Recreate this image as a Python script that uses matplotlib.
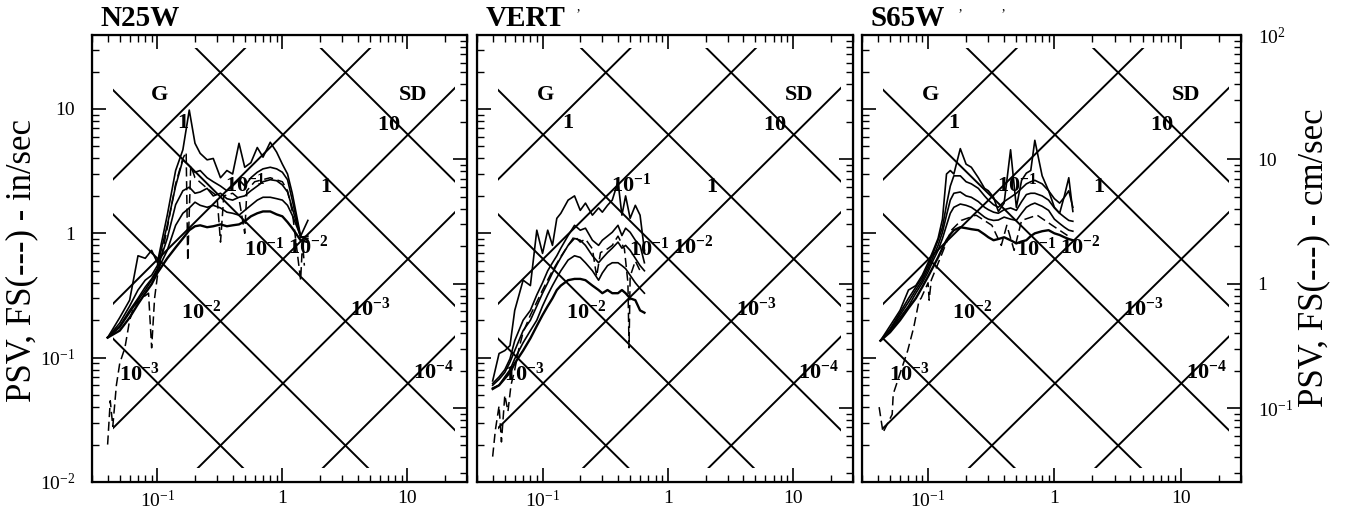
import numpy as np
import matplotlib

matplotlib.use('Agg')
import matplotlib.pyplot as plt
from matplotlib.patches import Rectangle
from matplotlib.ticker import FixedLocator, FixedFormatter, NullFormatter

plt.rcParams['font.family'] = ['Liberation Serif', 'DejaVu Serif']
plt.rcParams['mathtext.fontset'] = 'custom'
plt.rcParams['mathtext.rm'] = 'Liberation Serif'
plt.rcParams['mathtext.bf'] = 'Liberation Serif:bold'
plt.rcParams['mathtext.it'] = 'Liberation Serif:italic'

# --- data: period (sec) and pseudo velocity (in/sec) ---
N25W_T = [0.04, 0.05, 0.06, 0.07, 0.08, 0.09, 0.10, 0.12, 0.14, 0.16, 0.18, 0.20, 0.22, 0.25, 0.28,
          0.32, 0.36, 0.40, 0.45, 0.50, 0.56, 0.63, 0.70, 0.80, 0.90, 1.0, 1.1, 1.2, 1.4, 1.6]
N25W_PSV = [
    [0.145, 0.21, 0.29, 0.66, 0.63, 0.73, 0.58, 1.4, 3.2, 4.7, 9.8, 5.3, 4.4, 3.9, 4.0,
     2.8, 3.2, 3.0, 5.3, 3.4, 3.7, 4.9, 4.1, 5.4, 4.5, 3.6, 3.0, 2.1, 0.95, 1.27],
    [0.145, 0.19, 0.26, 0.35, 0.42, 0.46, 0.55, 1.16, 2.4, 3.9, 3.5, 3.1, 3.2, 2.8, 2.6,
     2.4, 2.2, 2.4, 2.7, 2.4, 2.8, 3.1, 3.3, 3.4, 3.3, 3.1, 2.7, 1.85, 0.93, 0.95],
    [0.145, 0.18, 0.24, 0.30, 0.37, 0.43, 0.52, 0.91, 1.7, 2.2, 2.35, 2.1, 2.15, 2.3, 2.0,
     2.1, 1.9, 1.85, 1.95, 2.0, 2.2, 2.4, 2.6, 2.7, 2.65, 2.45, 2.15, 1.6, 0.93, 0.91],
    [0.145, 0.175, 0.23, 0.29, 0.35, 0.42, 0.50, 0.73, 1.16, 1.45, 1.6, 1.78, 1.68, 1.62, 1.68,
     1.6, 1.48, 1.45, 1.4, 1.53, 1.68, 1.85, 1.95, 1.95, 1.9, 1.85, 1.68, 1.4, 0.95, 0.88],
    [0.145, 0.165, 0.21, 0.27, 0.33, 0.39, 0.48, 0.63, 0.77, 0.91, 1.06, 1.14, 1.16, 1.12, 1.14,
     1.18, 1.14, 1.16, 1.18, 1.25, 1.37, 1.45, 1.5, 1.5, 1.42, 1.37, 1.23, 1.1, 0.88, 0.85],
]
N25W_FS_T = [0.040, 0.042, 0.044, 0.047, 0.050, 0.055, 0.060, 0.065, 0.075, 0.085, 0.090, 0.095,
             0.10, 0.12, 0.14, 0.16, 0.17, 0.175, 0.185, 0.20, 0.25, 0.30, 0.32, 0.34, 0.40, 0.45,
             0.50, 0.52, 0.60, 0.80, 1.0, 1.1, 1.2, 1.4, 1.45, 1.5]
N25W_FS = [0.020, 0.045, 0.028, 0.06, 0.09, 0.12, 0.20, 0.26, 0.30, 0.33, 0.12, 0.30,
           0.45, 1.1, 2.5, 4.0, 4.5, 0.6, 3.5, 2.8, 2.3, 2.0, 0.85, 2.0, 2.1, 1.9,
           1.0, 2.2, 2.6, 2.8, 2.6, 2.2, 1.5, 0.42, 0.85, 0.55]

VERT_T = [0.04, 0.045, 0.05, 0.055, 0.06, 0.07, 0.08, 0.09, 0.10, 0.11, 0.12, 0.13, 0.14, 0.16, 0.18,
          0.20, 0.22, 0.25, 0.28, 0.30, 0.33, 0.36, 0.40, 0.43, 0.46, 0.50, 0.55, 0.60, 0.65]
VERT_PSV = [
    [0.065, 0.108, 0.114, 0.125, 0.24, 0.42, 0.38, 1.06, 0.69, 1.06, 0.80, 1.32, 1.45, 1.85, 2.0,
     1.53, 1.75, 1.4, 1.6, 1.48, 1.68, 1.85, 2.6, 1.4, 2.0, 1.32, 1.68, 1.4, 0.73],
    [0.062, 0.07, 0.08, 0.098, 0.137, 0.2, 0.24, 0.32, 0.4, 0.5, 0.58, 0.66, 0.76, 0.96, 1.16,
     1.06, 1.1, 0.88, 0.8, 0.88, 0.95, 1.02, 1.16, 0.96, 1.1, 1.02, 0.88, 0.8, 0.58],
    [0.06, 0.067, 0.076, 0.092, 0.114, 0.165, 0.2, 0.26, 0.33, 0.4, 0.48, 0.56, 0.64, 0.8, 0.91,
     0.88, 0.8, 0.66, 0.58, 0.63, 0.7, 0.76, 0.85, 0.76, 0.8, 0.73, 0.63, 0.55, 0.5],
    [0.057, 0.06, 0.07, 0.08, 0.098, 0.132, 0.165, 0.2, 0.26, 0.32, 0.38, 0.44, 0.5, 0.61, 0.66,
     0.64, 0.58, 0.5, 0.42, 0.48, 0.55, 0.58, 0.58, 0.55, 0.52, 0.46, 0.4, 0.36, 0.33],
    [0.056, 0.06, 0.068, 0.076, 0.09, 0.114, 0.143, 0.18, 0.22, 0.26, 0.3, 0.35, 0.38, 0.42, 0.43,
     0.43, 0.42, 0.38, 0.35, 0.33, 0.35, 0.33, 0.33, 0.35, 0.33, 0.3, 0.29, 0.24, 0.23],
]
VERT_FS_T = [0.04, 0.042, 0.045, 0.047, 0.05, 0.053, 0.056, 0.06, 0.065, 0.07, 0.08, 0.09, 0.1,
             0.12, 0.14, 0.16, 0.18, 0.2, 0.22, 0.25, 0.27, 0.29, 0.33, 0.36, 0.4, 0.45, 0.48,
             0.49, 0.5, 0.55, 0.6]
VERT_FS = [0.016, 0.026, 0.041, 0.021, 0.05, 0.037, 0.06, 0.08, 0.12, 0.16, 0.22, 0.28, 0.35,
           0.5, 0.65, 0.8, 0.95, 0.85, 0.9, 0.75, 0.45, 0.7, 0.75, 0.8, 0.95, 0.75, 0.4,
           0.12, 0.45, 0.6, 0.5]

S65W_T = [0.042, 0.05, 0.06, 0.07, 0.08, 0.09, 0.10, 0.11, 0.12, 0.13, 0.14, 0.15, 0.16, 0.18, 0.20,
          0.22, 0.25, 0.28, 0.30, 0.33, 0.36, 0.40, 0.45, 0.50, 0.55, 0.60, 0.65, 0.70, 0.80, 0.90,
          1.0, 1.1, 1.2, 1.3, 1.4]
S65W_PSV = [
    [0.137, 0.18, 0.24, 0.35, 0.38, 0.46, 0.58, 0.73, 0.91, 1.3, 3.0, 3.2, 3.0, 4.8, 3.6,
     3.4, 2.8, 2.3, 2.2, 1.95, 1.5, 1.75, 4.7, 1.62, 2.67, 3.05, 3.2, 5.6, 2.9, 2.2,
     1.62, 1.45, 2.0, 2.8, 1.5],
    [0.137, 0.17, 0.23, 0.30, 0.37, 0.44, 0.55, 0.70, 0.88, 1.12, 1.7, 2.4, 2.9, 2.9, 2.6,
     2.5, 2.3, 2.0, 1.85, 1.7, 1.62, 1.8, 1.95, 2.1, 2.3, 2.5, 2.6, 2.67, 2.5, 2.2,
     1.9, 1.75, 1.95, 2.2, 1.62],
    [0.137, 0.168, 0.22, 0.28, 0.35, 0.42, 0.52, 0.65, 0.80, 1.02, 1.4, 1.85, 2.1, 2.15, 2.0,
     1.95, 1.8, 1.62, 1.55, 1.48, 1.45, 1.55, 1.6, 1.53, 1.8, 2.05, 2.1, 2.1, 2.0, 1.85,
     1.6, 1.45, 1.35, 1.27, 1.25],
    [0.137, 0.165, 0.21, 0.26, 0.33, 0.40, 0.49, 0.61, 0.73, 0.91, 1.16, 1.45, 1.62, 1.72, 1.68,
     1.62, 1.48, 1.35, 1.3, 1.27, 1.28, 1.35, 1.3, 1.27, 1.45, 1.62, 1.7, 1.75, 1.65, 1.53,
     1.3, 1.2, 1.12, 1.06, 1.04],
    [0.137, 0.16, 0.2, 0.25, 0.30, 0.37, 0.45, 0.54, 0.64, 0.76, 0.88, 0.98, 1.06, 1.12, 1.1,
     1.08, 1.06, 0.98, 0.93, 0.88, 0.9, 0.93, 0.88, 0.83, 0.86, 0.88, 0.95, 1.0, 1.04, 1.06,
     1.0, 0.97, 0.93, 0.9, 0.88],
]
S65W_FS_T = [0.041, 0.044, 0.052, 0.053, 0.069, 0.077, 0.085, 0.088, 0.10, 0.102, 0.106, 0.127,
             0.153, 0.183, 0.24, 0.32, 0.38, 0.42, 0.48, 0.55, 0.73, 0.96, 1.27]
S65W_FS = [0.04, 0.025, 0.035, 0.051, 0.114, 0.175, 0.29, 0.30, 0.40, 0.29, 0.42, 0.66,
           1.06, 1.27, 1.4, 1.16, 0.8, 1.16, 0.73, 1.27, 1.4, 1.16, 0.96]

PANELS = ['N25W', 'VERT', 'S65W']
PANEL_DATA = {
    'N25W': (N25W_T, N25W_PSV, N25W_FS_T, N25W_FS),
    'VERT': (VERT_T, VERT_PSV, VERT_FS_T, VERT_FS),
    'S65W': (S65W_T, S65W_PSV, S65W_FS_T, S65W_FS),
}

# tripartite grid levels (exponents): acceleration in g, displacement in inches
G_EXP = [0, -1, -2, -3, -4]
SD_EXP = [1, 0, -1, -2, -3]

T_LIM = (0.03, 30)
V_LIM = (0.01, 100 / 2.54)
CM_PER_IN = 2.54
G_IN = 386.09
TWO_PI = 2 * np.pi


def dec_text(k):
    if k == 0:
        return '1'
    if k == 1:
        return '10'
    return r'$10^{%d}$' % k


def dec_text_bold(k):
    if k == 0:
        return r'$\mathbf{1}$'
    if k == 1:
        return r'$\mathbf{10}$'
    return r'$\mathbf{10^{%d}}$' % k


fig = plt.figure(figsize=(13.5, 5.14), dpi=100)
lefts = [92, 477, 862]
widths = [375, 376, 379]

for i, name in enumerate(PANELS):
    ax = fig.add_axes([lefts[i] / 1350, 32 / 514, widths[i] / 1350, 447 / 514])
    ax.set_xscale('log')
    ax.set_yscale('log')
    ax.set_xlim(*T_LIM)
    ax.set_ylim(*V_LIM)

    # diagonal lines, clipped to an inset box
    clip = Rectangle((0.056, 0.031), 0.912, 0.94, transform=ax.transAxes)
    tt = np.logspace(-2, 2, 100)
    for k in G_EXP:
        ln, = ax.plot(tt, 10.0 ** k * G_IN * tt / TWO_PI, color='k', lw=1.4)
        ln.set_clip_path(clip)
    for k in SD_EXP:
        ln, = ax.plot(tt, TWO_PI * 10.0 ** k / tt, color='k', lw=1.4)
        ln.set_clip_path(clip)

    # line labels
    for k in G_EXP:
        g = 10.0 ** k
        tb = np.sqrt(TWO_PI * 0.19 / (G_IN / TWO_PI * g))
        ax.text(tb * 1.15, TWO_PI * 0.19 / tb * 0.9, dec_text_bold(k), fontsize=16,
                ha='center', va='center')
    for k in SD_EXP:
        d = 10.0 ** k
        tb = np.sqrt(TWO_PI * d / (G_IN / TWO_PI * 0.0175))
        ax.text(tb * 0.93, TWO_PI * d / tb * 0.9, dec_text_bold(k), fontsize=16,
                ha='center', va='center')
    ax.text(0.181, 0.866, 'G', transform=ax.transAxes, fontsize=16, fontweight='bold',
            ha='center', va='center')
    ax.text(0.856, 0.866, 'SD', transform=ax.transAxes, fontsize=16, fontweight='bold',
            ha='center', va='center')

    # spectra
    T, psv, fs_t, fs = PANEL_DATA[name]
    for j, curve in enumerate(psv):
        ax.plot(T, curve, color='k', lw=1.7 if j == len(psv) - 1 else 1.2)
    ax.plot(fs_t, fs, color='k', lw=1.1, dashes=(6, 3))

    ax.text(0.022, 1.006, name, transform=ax.transAxes, fontsize=21, fontweight='bold',
            ha='left', va='bottom')

    # axes styling
    for sp in ax.spines.values():
        sp.set_linewidth(1.6)
    ax.xaxis.set_major_locator(FixedLocator([0.1, 1, 10]))
    ax.xaxis.set_major_formatter(FixedFormatter([dec_text(-1), dec_text(0), dec_text(1)]))
    ax.xaxis.set_minor_formatter(NullFormatter())
    ax.yaxis.set_major_locator(FixedLocator([0.01, 0.1, 1, 10]))
    ax.yaxis.set_major_formatter(FixedFormatter([dec_text(-2), dec_text(-1), dec_text(0), dec_text(1)]))
    ax.yaxis.set_minor_formatter(NullFormatter())
    ax.tick_params(which='both', direction='in', top=True, labelsize=14)
    ax.tick_params(which='major', length=10, width=1.2)
    ax.tick_params(which='minor', length=5, width=1.0)
    ax.tick_params(axis='y', pad=12)
    ax.tick_params(axis='x', pad=6)
    if i > 0:
        ax.tick_params(axis='y', labelleft=False)

    ax2 = ax.twinx()
    ax2.set_yscale('log')
    ax2.set_ylim(V_LIM[0] * CM_PER_IN, V_LIM[1] * CM_PER_IN)
    ax2.yaxis.set_major_locator(FixedLocator([0.1, 1, 10, 100]))
    ax2.yaxis.set_major_formatter(FixedFormatter([dec_text(-1), dec_text(0), dec_text(1), r'$10^{2}$']))
    ax2.yaxis.set_minor_formatter(NullFormatter())
    ax2.tick_params(which='both', direction='in', labelsize=14, pad=12)
    ax2.tick_params(which='major', length=10, width=1.2)
    ax2.tick_params(which='minor', length=5, width=1.0)
    if i < 2:
        ax2.tick_params(axis='y', labelright=False)

fig.text(22 / 1350, 0.494, 'PSV, FS(---) - in/sec', rotation=90, fontsize=25,
         ha='center', va='center')
fig.text(1314 / 1350, 0.498, 'PSV, FS(---) - cm/sec', rotation=90, fontsize=25,
         ha='center', va='center')

# commas left from the caption line cut off above the panels
for xc in [578, 960, 1003]:
    fig.text(xc / 1350, 0.999, ',', fontsize=10, ha='center', va='top')

fig.savefig('out.png', dpi=100)
plt.close(fig)
